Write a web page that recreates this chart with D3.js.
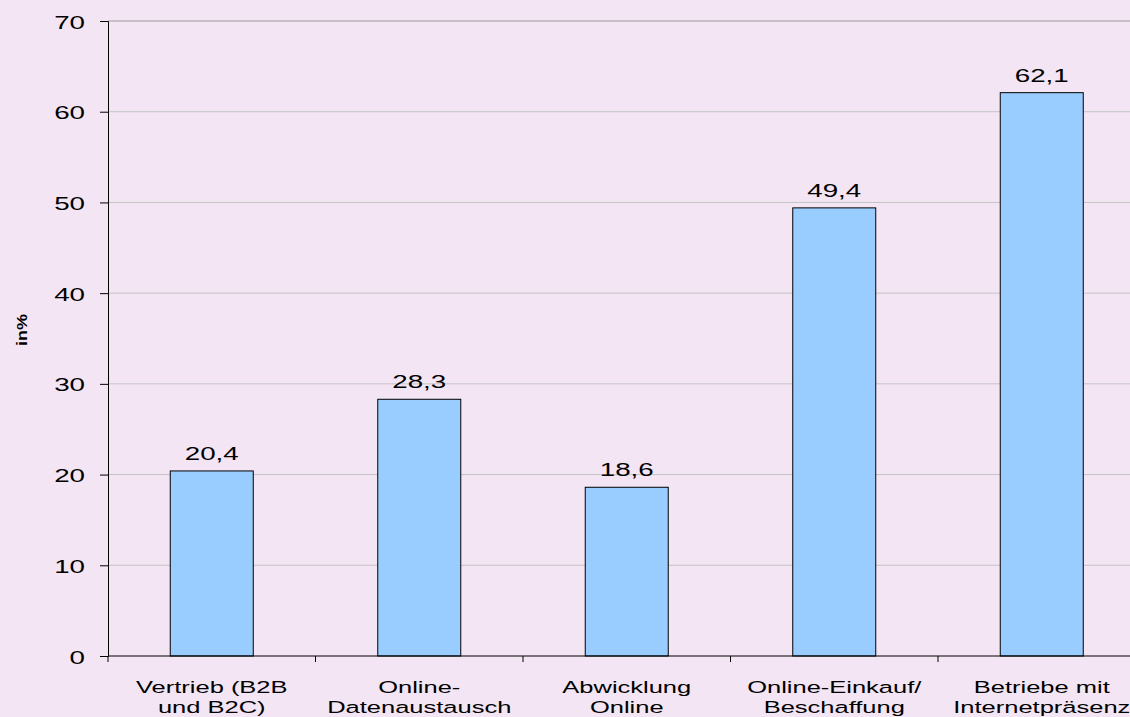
<!DOCTYPE html>
<html><head><meta charset="utf-8">
<script src="https://cdn.jsdelivr.net/npm/d3@7"></script>
<style>html,body{margin:0;padding:0;background:#F3E5F3;}svg{display:block;}</style>
</head><body>
<script>
const categories = [["Vertrieb (B2B","und B2C)"],["Online-","Datenaustausch"],["Abwicklung","Online"],["Online-Einkauf/","Beschaffung"],["Betriebe mit","Internetpräsenz"]];
const values = [20.4, 28.3, 18.6, 49.4, 62.1];
const valueLabels = ["20,4","28,3","18,6","49,4","62,1"];
const yTicks = [0,10,20,30,40,50,60,70];

const W = 1130, H = 717;
const SX = 1.5; // horizontal stretch of text as in the reference
const svg = d3.select("body").append("svg").attr("width", W).attr("height", H);
svg.append("rect").attr("width", W).attr("height", H).attr("fill", "#F3E5F3");

const x = d3.scaleBand().domain(d3.range(categories.length)).range([108, 1145.5]).padding(0);
const y = d3.scaleLinear().domain([0, 70]).range([656, 21]);
const font = "Liberation Sans, Arial, sans-serif";

// gridlines
svg.append("g").selectAll("line").data(yTicks.filter(d => d > 0)).join("line")
  .attr("x1", 108).attr("x2", W).attr("y1", d => y(d)).attr("y2", d => y(d))
  .attr("stroke", d => d === 70 ? "#9a9a9a" : "#c4c4c4").attr("stroke-width", 1);

// bars
const bw = x.bandwidth() * 0.4;
svg.append("g").selectAll("rect").data(values).join("rect")
  .attr("x", (d, i) => x(i) + (x.bandwidth() - bw) / 2)
  .attr("y", d => y(d)).attr("width", bw).attr("height", d => y(0) - y(d))
  .attr("fill", "#99CCFF").attr("stroke", "#000").attr("stroke-width", 1);

// value labels
svg.append("g").selectAll("text").data(values).join("text")
  .attr("transform", (d, i) => `translate(${x(i) + x.bandwidth() / 2},${y(d) - 11}) scale(${SX},1)`)
  .attr("text-anchor", "middle").attr("font-family", font).attr("font-size", 18.5)
  .attr("fill", "#000").text((d, i) => valueLabels[i]);

// y axis
const yAxis = d3.axisLeft(y).tickValues(yTicks).tickSize(8).tickFormat(d3.format("d"));
const gy = svg.append("g").attr("transform", "translate(108,0)").call(yAxis);
gy.select(".domain").attr("stroke", "#000");
gy.selectAll(".tick line").attr("stroke", "#000");
gy.selectAll(".tick text").attr("x", null).attr("dy", null)
  .attr("transform", `translate(-23,7) scale(${SX},1)`)
  .attr("font-family", font).attr("font-size", 18.5).attr("fill", "#000");

// x axis
const gx = svg.append("g").attr("transform", "translate(0,656)");
gx.append("line").attr("x1", 108).attr("x2", W).attr("stroke", "#000");
const edges = d3.range(categories.length + 1).map(i => i < categories.length ? x(i) : x(i - 1) + x.bandwidth());
gx.selectAll("line.t").data(edges).join("line").attr("class", "t")
  .attr("x1", d => d).attr("x2", d => d).attr("y1", 0).attr("y2", 6).attr("stroke", "#000");
const lbl = gx.selectAll("text").data(categories).join("text")
  .attr("transform", (d, i) => `translate(${x(i) + x.bandwidth() / 2},37) scale(${SX},1)`)
  .attr("text-anchor", "middle").attr("font-family", font).attr("font-size", 17).attr("fill", "#000");
lbl.each(function(d) {
  const t = d3.select(this);
  d.forEach((line, k) => t.append("tspan").attr("x", 0).attr("dy", k === 0 ? 0 : 20).text(line));
});

// y title
svg.append("text").attr("transform", `translate(27,330) rotate(-90) scale(1.2,1)`)
  .attr("text-anchor", "middle").attr("font-family", font).attr("font-size", 15).attr("font-weight", "bold")
  .attr("fill", "#000").text("in%");
</script>
</body></html>
